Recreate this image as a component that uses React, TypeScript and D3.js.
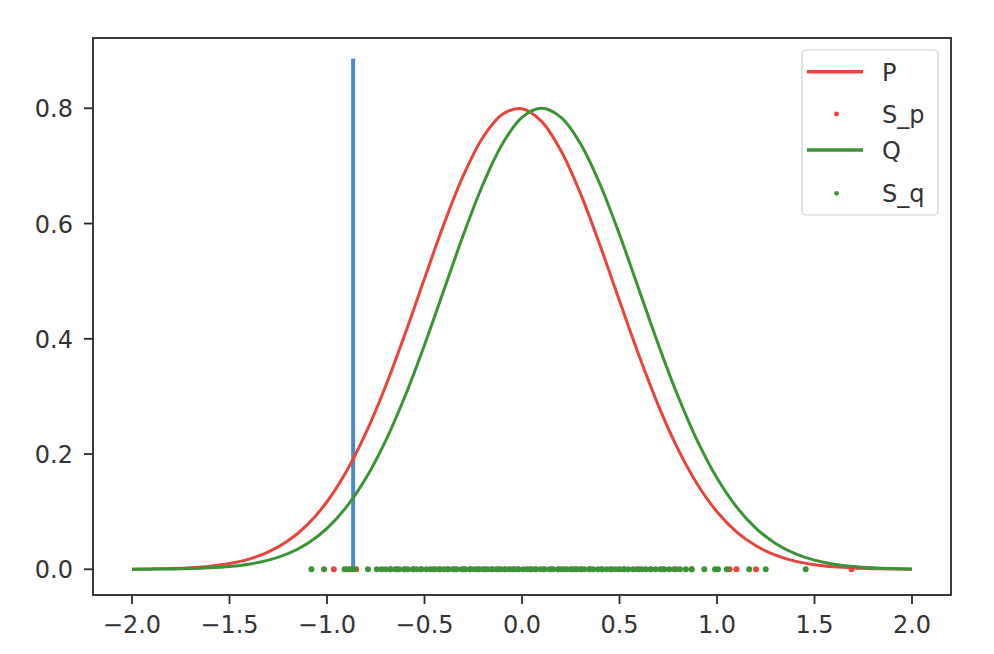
import React from "react";
import * as d3 from "d3";

const xGrid = [-2.0,-1.9,-1.8,-1.7,-1.6,-1.5,-1.4,-1.3,-1.2,-1.1,-1.0,-0.9,-0.8,-0.7,-0.6,-0.5,-0.4,-0.3,-0.2,-0.1,0.0,0.1,0.2,0.3,0.4,0.5,0.6,0.7,0.8,0.9,1.0,1.1,1.2,1.3,1.4,1.5,1.6,1.7,1.8,1.9,2.0];
const pValues = [0.0003,0.0007,0.0014,0.0028,0.0054,0.0100,0.0177,0.0302,0.0494,0.0776,0.1172,0.1700,0.2370,0.3173,0.4082,0.5046,0.5994,0.6839,0.7498,0.7898,0.7994,0.7773,0.7262,0.6519,0.5622,0.4659,0.3709,0.2837,0.2085,0.1472,0.0999,0.0651,0.0408,0.0245,0.0142,0.0079,0.0042,0.0022,0.0011,0.0005,0.0002];
const qValues = [0.0001,0.0003,0.0006,0.0012,0.0025,0.0048,0.0089,0.0159,0.0272,0.0449,0.0711,0.1083,0.1583,0.2224,0.3003,0.3894,0.4852,0.5809,0.6682,0.7385,0.7842,0.8000,0.7842,0.7385,0.6682,0.5809,0.4852,0.3894,0.3003,0.2224,0.1583,0.1083,0.0711,0.0449,0.0272,0.0159,0.0089,0.0048,0.0025,0.0012,0.0006];
const samplesP = [-0.965,-0.90,-0.875,-0.85,-0.675,-0.64,-0.60,-0.555,-0.52,-0.455,-0.42,-0.38,-0.345,-0.30,-0.266,-0.23,-0.19,-0.15,-0.12,-0.09,-0.05,-0.02,0.04,0.07,0.11,0.15,0.19,0.22,0.26,0.28,0.305,0.35,0.41,0.46,0.52,0.60,0.66,0.72,0.79,0.87,1.065,1.10,1.20,1.69];
const samplesQ = [-1.08,-1.015,-0.91,-0.885,-0.86,-0.79,-0.745,-0.72,-0.70,-0.675,-0.65,-0.63,-0.605,-0.585,-0.56,-0.54,-0.515,-0.49,-0.47,-0.445,-0.425,-0.40,-0.38,-0.355,-0.335,-0.31,-0.29,-0.265,-0.245,-0.22,-0.20,-0.175,-0.155,-0.13,-0.11,-0.085,-0.065,-0.04,-0.02,0.005,0.025,0.05,0.07,0.095,0.115,0.14,0.16,0.185,0.205,0.23,0.25,0.275,0.30,0.32,0.345,0.365,0.39,0.41,0.435,0.455,0.48,0.50,0.525,0.545,0.57,0.59,0.615,0.635,0.66,0.685,0.71,0.73,0.755,0.78,0.81,0.84,0.87,0.935,0.99,1.005,1.05,1.165,1.25,1.455];
const vlineX = -0.866;
const vlineTop = 0.886;
const xTicks = [-2.0,-1.5,-1.0,-0.5,0.0,0.5,1.0,1.5,2.0];
const yTicks = [0.0,0.2,0.4,0.6,0.8];
const legendLabels = ["P","S_p","Q","S_q"];

const RED = "#e8443c";
const GREEN = "#3a9434";
const BLUE = "#4a8bc4";
const FONT = "DejaVu Sans, sans-serif";

export default function App() {
  const left = 93, right = 951, top = 38, bottom = 595;
  const x = d3.scaleLinear().domain([-2.2, 2.2]).range([left, right]);
  const y = d3.scaleLinear().domain([-0.0446, 0.922]).range([bottom, top]);
  const line = d3.line<[number, number]>().x(d => x(d[0])).y(d => y(d[1])).curve(d3.curveCatmullRom);
  const pPts = xGrid.map((v, i) => [v, pValues[i]] as [number, number]);
  const qPts = xGrid.map((v, i) => [v, qValues[i]] as [number, number]);
  const fmt = d3.format(".1f");
  const label = (v: number) => fmt(v).replace("-", "\u2212");

  const legRows = [71.7, 114, 150, 193.3];

  return (
    <svg width={994} height={654} style={{ position: "fixed", top: 0, left: 0, background: "#fff" }} fontFamily={FONT}>
      <rect x={0} y={0} width={994} height={654} fill="#fff" />
      <line x1={x(vlineX)} x2={x(vlineX)} y1={y(0)} y2={y(vlineTop)} stroke={BLUE} strokeWidth={4} />
      <path d={line(pPts) || ""} fill="none" stroke={RED} strokeWidth={3} />
      {samplesP.map((v, i) => (
        <circle key={"p" + i} cx={x(v)} cy={y(0)} r={3} fill={RED} />
      ))}
      <path d={line(qPts) || ""} fill="none" stroke={GREEN} strokeWidth={3} />
      {samplesQ.map((v, i) => (
        <circle key={"q" + i} cx={x(v)} cy={y(0)} r={3} fill={GREEN} />
      ))}
      <rect x={left} y={top} width={right - left} height={bottom - top} fill="none" stroke="#262626" strokeWidth={1.8} />
      {xTicks.map(t => (
        <g key={"xt" + t}>
          <line x1={x(t)} x2={x(t)} y1={bottom} y2={bottom + 9} stroke="#262626" strokeWidth={1.8} />
          <text x={x(t)} y={633} textAnchor="middle" fontSize={24} fill="#333">{label(t)}</text>
        </g>
      ))}
      {yTicks.map(t => (
        <g key={"yt" + t}>
          <line x1={left - 9} x2={left} y1={y(t)} y2={y(t)} stroke="#262626" strokeWidth={1.8} />
          <text x={73} y={y(t) + 9} textAnchor="end" fontSize={24} fill="#333">{label(t)}</text>
        </g>
      ))}
      <g>
        <rect x={802} y={50} width={136} height={165} rx={4} fill="#fff" fillOpacity={0.8} stroke="#d0d0d0" strokeWidth={1.2} />
        {legendLabels.map((lab, i) => {
          const ry = legRows[i];
          const color = i < 2 ? RED : GREEN;
          const isLine = i % 2 === 0;
          return (
            <g key={"leg" + lab}>
              {isLine ? (
                <line x1={807} x2={863} y1={ry} y2={ry} stroke={color} strokeWidth={3.5} />
              ) : (
                <circle cx={836.5} cy={ry} r={2.4} fill={color} />
              )}
              <text x={882} y={ry + 9} fontSize={24} fill="#333">{lab}</text>
            </g>
          );
        })}
      </g>
    </svg>
  );
}
